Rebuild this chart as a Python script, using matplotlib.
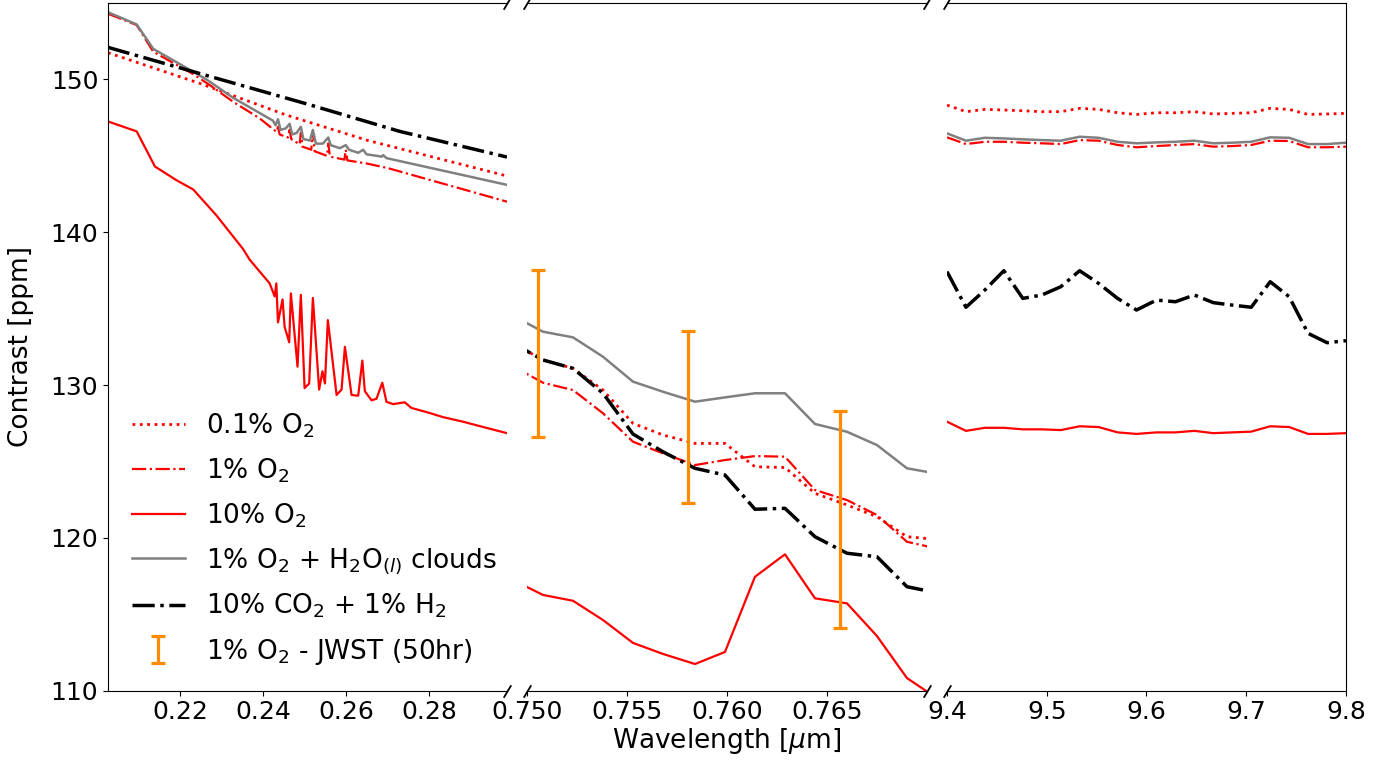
import matplotlib
matplotlib.use("Agg")
import matplotlib.pyplot as plt

plt.rcParams['font.size'] = 18
plt.rcParams['font.family'] = ['DejaVu Sans']

# ---------------- data: UV panel ----------------
uv_x_o2_01 = [0.2027, 0.2248, 0.2456, 0.2649, 0.2987]
uv_y_o2_01 = [151.75, 149.74, 147.67, 146.03, 143.68]

uv_x_co2 = [0.2027, 0.2272, 0.2505, 0.2729, 0.2987]
uv_y_co2 = [152.10, 150.20, 148.40, 146.60, 144.92]

uv_x_o2_1 = [0.2027, 0.2096, 0.2136, 0.2232, 0.2272, 0.2328, 0.2392, 0.2432, 0.2436,
             0.2440, 0.2460, 0.2464, 0.2468, 0.2488, 0.2491, 0.2495, 0.2516, 0.2520,
             0.2524, 0.2554, 0.2557, 0.2561, 0.2596, 0.2599, 0.2603, 0.2649, 0.2700,
             0.2987]
uv_y_o2_1 = [154.30, 153.56, 151.81, 150.35, 149.63, 148.54, 147.45, 146.58, 146.90,
             146.40, 146.20, 146.70, 146.10, 145.75, 146.50, 145.60, 145.40, 146.60,
             145.30, 145.00, 145.80, 144.95, 144.75, 145.40, 144.70, 144.50, 144.20,
             142.00]

uv_x_o2_10 = [0.2027, 0.2096, 0.2140, 0.2192, 0.2232, 0.2288, 0.2352, 0.2368, 0.2416,
              0.2428, 0.2432, 0.2436, 0.2447, 0.2452, 0.2463, 0.2467, 0.2483, 0.2491,
              0.2500, 0.2511, 0.2520, 0.2535, 0.2543, 0.2549, 0.2556, 0.2577, 0.2589,
              0.2597, 0.2613, 0.2629, 0.2639, 0.2645, 0.2661, 0.2673, 0.2687, 0.2697,
              0.2713, 0.2741, 0.2757, 0.2797, 0.2833, 0.2881, 0.2937, 0.2987]
uv_y_o2_10 = [147.25, 146.60, 144.30, 143.40, 142.80, 141.10, 138.90, 138.20, 136.65,
              135.80, 136.65, 134.10, 135.60, 133.80, 132.80, 136.00, 131.20, 135.90,
              129.80, 130.10, 135.70, 129.70, 130.90, 130.10, 134.25, 129.35, 129.70,
              132.50, 129.35, 129.30, 131.60, 129.60, 129.00, 129.10, 130.15, 128.90,
              128.75, 128.87, 128.50, 128.20, 127.90, 127.60, 127.20, 126.85]

uv_x_cloud = [0.2027, 0.2096, 0.2136, 0.2168, 0.2232, 0.2264, 0.2328, 0.2424, 0.2430,
              0.2436, 0.2442, 0.2455, 0.2464, 0.2470, 0.2481, 0.2491, 0.2497, 0.2513,
              0.2520, 0.2527, 0.2544, 0.2557, 0.2563, 0.2585, 0.2599, 0.2607, 0.2629,
              0.2641, 0.2649, 0.2686, 0.2689, 0.2697, 0.2987]
uv_y_cloud = [154.40, 153.60, 152.00, 151.50, 150.50, 150.00, 148.80, 147.30, 147.00,
              147.40, 146.70, 146.80, 147.10, 146.40, 146.50, 146.90, 146.10, 146.00,
              146.70, 145.80, 145.80, 146.20, 145.70, 145.50, 145.70, 145.40, 145.20,
              145.40, 145.10, 144.95, 145.05, 144.85, 143.10]

# ---------------- data: O2 A-band panel ----------------
ab_x = [0.7492, 0.7508, 0.7523, 0.7538, 0.7553, 0.7568, 0.7584, 0.7599,
        0.7614, 0.7629, 0.7644, 0.7660, 0.7675, 0.7690, 0.7705]
ab_o2_01 = [132.80, 131.64, 131.09, 129.67, 127.49, 126.73, 126.18, 126.18,
            124.65, 124.60, 122.91, 122.15, 121.38, 120.07, 119.90]
ab_o2_1 = [131.30, 130.15, 129.67, 128.15, 126.29, 125.53, 124.76, 125.09,
           125.35, 125.31, 123.13, 122.47, 121.49, 119.74, 119.30]
ab_o2_10 = [117.30, 116.26, 115.88, 114.62, 113.12, 112.40, 111.74, 112.53,
            117.45, 118.92, 116.04, 115.71, 113.57, 110.82, 109.50]
ab_cloud = [134.60, 133.49, 133.12, 131.85, 130.22, 129.56, 128.91, 129.19,
            129.46, 129.46, 127.45, 126.94, 126.07, 124.55, 124.20]
ab_co2 = [132.80, 131.64, 131.09, 129.46, 126.79, 125.63, 124.55, 124.11,
          121.87, 121.93, 120.07, 118.99, 118.76, 116.80, 116.40]

jwst_x = [0.75055, 0.75805, 0.76563]
jwst_y = [132.05, 127.90, 121.20]
jwst_err = [5.47, 5.65, 7.10]

# ---------------- data: 9.6 micron panel ----------------
ir_x = [9.400, 9.419, 9.438, 9.457, 9.476, 9.495, 9.514, 9.533, 9.552, 9.571, 9.590,
        9.610, 9.629, 9.648, 9.667, 9.686, 9.705, 9.724, 9.743, 9.762, 9.781, 9.800]
ir_o2_01 = [148.32, 147.89, 148.04, 148.00, 147.95, 147.89, 147.89, 148.11, 148.04, 147.82, 147.71,
            147.82, 147.82, 147.89, 147.74, 147.78, 147.82, 148.11, 148.04, 147.71, 147.74, 147.78]
ir_o2_1 = [146.21, 145.77, 145.92, 145.92, 145.86, 145.82, 145.77, 146.03, 145.99, 145.71, 145.56,
           145.64, 145.71, 145.77, 145.60, 145.64, 145.71, 145.99, 145.97, 145.56, 145.56, 145.60]
ir_o2_10 = [127.60, 127.00, 127.20, 127.20, 127.10, 127.10, 127.05, 127.30, 127.25, 126.90, 126.80,
            126.90, 126.90, 127.00, 126.85, 126.90, 126.95, 127.30, 127.25, 126.80, 126.80, 126.85]
ir_cloud = [146.47, 145.99, 146.18, 146.14, 146.08, 146.03, 145.99, 146.25, 146.18, 145.92, 145.82,
            145.88, 145.92, 145.99, 145.82, 145.86, 145.92, 146.21, 146.18, 145.77, 145.77, 145.86]
ir_co2 = [137.42, 135.09, 136.22, 137.48, 135.67, 135.89, 136.43, 137.48, 136.65, 135.67, 134.91,
          135.56, 135.45, 135.89, 135.39, 135.23, 135.09, 136.76, 135.78, 133.38, 132.77, 132.90]

labels = ['0.1% O$_2$', '1% O$_2$', '10% O$_2$',
          '1% O$_2$ + H$_2$O$_{(l)}$ clouds', '10% CO$_2$ + 1% H$_2$',
          '1% O$_2$ - JWST (50hr)']

uv_ticks = [0.22, 0.24, 0.26, 0.28]
ab_ticks = [0.750, 0.755, 0.760, 0.765]
ir_ticks = [9.4, 9.5, 9.6, 9.7, 9.8]
y_ticks = [110, 120, 130, 140, 150]

# ---------------- styles ----------------
styles = [
    dict(color='red', ls=':', lw=2.0),
    dict(color='red', ls='-.', lw=1.6),
    dict(color='red', ls='-', lw=1.6),
    dict(color='grey', ls='-', lw=1.8),
    dict(color='black', ls='-.', lw=2.5),
]

fig = plt.figure(figsize=(13.98, 7.61), dpi=100)
bottom, height = 0.0925, 0.9035
ax1 = fig.add_axes([0.07725, bottom, 0.2854, height])
ax2 = fig.add_axes([0.37697, bottom, 0.2861, height], sharey=ax1)
ax3 = fig.add_axes([0.6774, bottom, 0.2854, height], sharey=ax1)

handles = []
uv_series = [(uv_x_o2_01, uv_y_o2_01), (uv_x_o2_1, uv_y_o2_1), (uv_x_o2_10, uv_y_o2_10),
             (uv_x_cloud, uv_y_cloud), (uv_x_co2, uv_y_co2)]
for (xs, ys), st, lab in zip(uv_series, styles, labels):
    h, = ax1.plot(xs, ys, label=lab, **st)
    handles.append(h)

for ys, st in zip([ab_o2_01, ab_o2_1, ab_o2_10, ab_cloud, ab_co2], styles):
    ax2.plot(ab_x, ys, **st)

for ys, st in zip([ir_o2_01, ir_o2_1, ir_o2_10, ir_cloud, ir_co2], styles):
    ax3.plot(ir_x, ys, **st)

eb = ax2.errorbar(jwst_x, jwst_y, yerr=jwst_err, fmt='none', ecolor='darkorange',
                  elinewidth=2.3, capsize=5, capthick=2.3, zorder=5)
handles.append(eb)

ax1.set_xlim(0.2027, 0.2987)
ax2.set_xlim(0.750, 0.770)
ax3.set_xlim(9.4, 9.8)
ax1.set_ylim(110, 155)

ax1.set_xticks(uv_ticks)
ax1.set_xticklabels(['%.2f' % t for t in uv_ticks])
ax2.set_xticks(ab_ticks)
ax2.set_xticklabels(['%.3f' % t for t in ab_ticks])
ax3.set_xticks(ir_ticks)
ax3.set_xticklabels(['%.1f' % t for t in ir_ticks])
ax1.set_yticks(y_ticks)
for ax in (ax1, ax2, ax3):
    ax.tick_params(labelsize=18)

ax1.spines['right'].set_visible(False)
ax2.spines['left'].set_visible(False)
ax2.spines['right'].set_visible(False)
ax3.spines['left'].set_visible(False)
for ax in (ax2, ax3):
    ax.tick_params(axis='y', which='both', left=False, labelleft=False)

# break marks
kw = dict(marker=[(-0.6, -1), (0.6, 1)], markersize=9, linestyle='none',
          color='k', mec='k', mew=1.3, clip_on=False)
ax1.plot([1, 1], [0, 1], transform=ax1.transAxes, **kw)
ax2.plot([0, 0, 1, 1], [0, 1, 0, 1], transform=ax2.transAxes, **kw)
ax3.plot([0, 0], [0, 1], transform=ax3.transAxes, **kw)

ax1.set_ylabel('Contrast [ppm]', fontsize=19, labelpad=12)
ax2.set_xlabel('Wavelength [$\\mu$m]', fontsize=19, labelpad=1)

ax1.legend(handles=handles, labels=labels, loc='lower left', frameon=False,
           fontsize=19, labelspacing=0.62)

fig.savefig('out.png', dpi=100)
